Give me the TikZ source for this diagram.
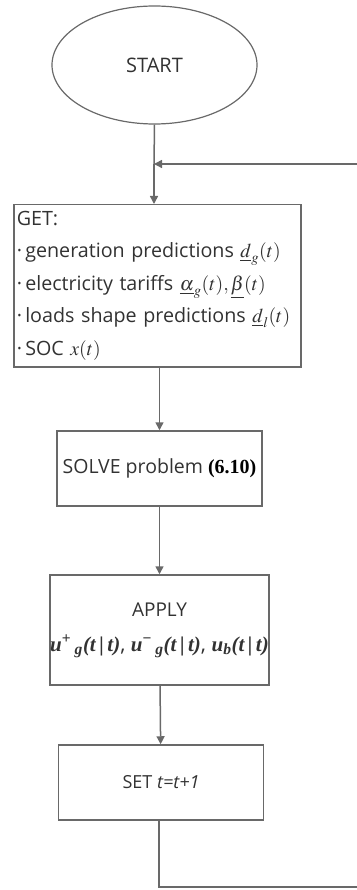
\documentclass[tikz,border=0pt]{standalone}
\usepackage{amsmath}
\usepackage{mathptmx}
\usepackage{fontspec}
\setmainfont{Open Sans}
\newfontfamily\tms{Liberation Serif}
\usetikzlibrary{arrows.meta,positioning,shapes.geometric}
\definecolor{txtgray}{RGB}{50,50,50}
\definecolor{linegray}{RGB}{105,105,105}
\newcommand{\bi}[1]{{\tms\bfseries\itshape #1}}

\begin{document}
\begin{tikzpicture}[
            x=1pt, y=-1pt,
            box/.style={draw=linegray, line width=1.5pt, align=center, minimum width=205pt, text=txtgray, font=\fontsize{19}{23}\selectfont},
            arr/.style={-{Triangle[width=8pt,length=8pt]}},
            line width=1.5pt, draw=linegray
        ]
            \useasboundingbox (0,0) rectangle (356,890);
            \node[ellipse, draw=linegray, line width=1.2pt, minimum width=205pt, minimum height=118pt, text=txtgray, font=\fontsize{20}{24}\selectfont] (start) at (154.5,65) {START};
            \node[box, anchor=north west, align=left, text width=281pt, minimum width=287pt, minimum height=162pt, inner xsep=3pt, font=\fontsize{19.7}{32.5}\selectfont] (get) at (13,204)
                {GET:\\
                 \textperiodcentered\,generation predictions $\underline{d}_g(t)$\\
                 \textperiodcentered\,electricity tariffs $\underline{\alpha}_g(t),\underline{\beta}(t)$\\
                 \textperiodcentered\,loads shape predictions $\underline{d}_l(t)$\\
                 \textperiodcentered\,SOC $x(t)$};
            \node[box, minimum height=75pt, inner xsep=2pt, font=\fontsize{19.5}{24}\selectfont] (solve) at (159.5,468.5) {SOLVE problem {\tms\bfseries\color{black}\fontsize{20}{24}\selectfont(6.10)}};
            \node[box, minimum height=110pt, inner xsep=0pt, font=\fontsize{19}{35}\selectfont] (apply) at (159.5,630)
                {APPLY\\ {\fontsize{21}{24}\selectfont\bi{u}\textsuperscript{\tms\bfseries +}\,\textsubscript{\bi{g}}\bi{(t{\tms\bfseries\,|\,}t)}, \bi{u}\textsuperscript{\tms\bfseries −}\,\textsubscript{\bi{g}}\bi{(t{\tms\bfseries\,|\,}t)}, \bi{u}\textsubscript{\bi{b}}\bi{(t{\tms\bfseries\,|\,}t)}}};
            \node[box, minimum height=75pt, font=\fontsize{18}{24}\selectfont] (set) at (161,782.5) {SET \textit{t=t+1}};
            \coordinate (join) at (154,164);
            \coordinate (loopa) at (159,887);
            \coordinate (loopb) at (362,887);
            \coordinate (loopc) at (362,164);

            \draw (start.south) -- (join);
            \draw[arr] (join) -- (join |- get.north);
            \draw[arr] (get.south -| solve) -- (solve.north);
            \draw[arr] (solve) -- (apply);
            \draw[arr] (apply) -- (set);
            \draw[arr] (set.south -| loopa) -- (loopa) -- (loopb) -- (loopc) -- (join);
        \end{tikzpicture}
\end{document}
